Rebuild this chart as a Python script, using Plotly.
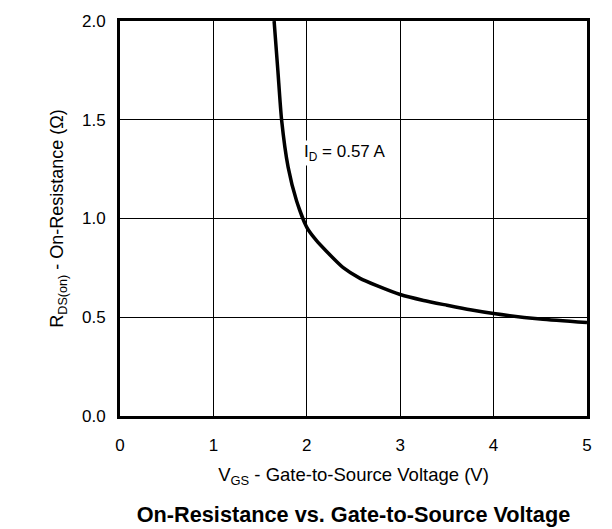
import plotly.graph_objects as go

# R_DS(on) vs V_GS at I_D = 0.57 A
vgs = [1.65, 1.69, 1.73, 1.80, 1.89, 2.00, 2.10, 2.21, 2.39, 2.57, 2.75, 3.00, 3.25, 3.50, 3.75, 4.00, 4.50, 5.00]
rds_on = [2.00, 1.75, 1.50, 1.26, 1.09, 0.955, 0.89, 0.834, 0.751, 0.697, 0.66, 0.615, 0.585, 0.561, 0.538, 0.519, 0.491, 0.473]
x_ticks = [0, 1, 2, 3, 4, 5]
y_ticks = [0.0, 0.5, 1.0, 1.5, 2.0]
curve_label = "I<sub>D</sub> = 0.57 A"

FONT = "Liberation Sans, Arial, Helvetica, sans-serif"

fig = go.Figure()
fig.add_trace(go.Scatter(x=vgs, y=rds_on, mode="lines", line=dict(color="black", width=3.5, shape="spline", smoothing=0.6),
                         showlegend=False, hoverinfo="skip"))
fig.add_annotation(x=1.945, y=1.33, text=curve_label, showarrow=False, xanchor="left", yanchor="middle",
                   font=dict(family=FONT, size=17, color="black"), bgcolor="white")

axis_common = dict(showgrid=True, gridcolor="black", gridwidth=1, showline=True, linecolor="black", linewidth=2.8,
                   mirror=True, zeroline=False, ticks="", tickfont=dict(family=FONT, size=17, color="black"))
fig.update_xaxes(range=[0, 5], tickvals=x_ticks, ticktext=[str(v) for v in x_ticks], ticklabelstandoff=12,
                 title=dict(text="V<sub>GS</sub> - Gate-to-Source Voltage (V)", font=dict(family=FONT, size=18.5, color="black"), standoff=14),
                 **axis_common)
fig.update_yaxes(range=[0, 2], tickvals=y_ticks, ticktext=[f"{v:.1f}" for v in y_ticks], ticklabelstandoff=8,
                 title=dict(text="R<sub>DS(on)</sub> - On-Resistance (\u03a9)", font=dict(family=FONT, size=18, color="black"), standoff=14),
                 **axis_common)
fig.update_layout(width=612, height=529, margin=dict(l=120, r=25, t=14, b=113), plot_bgcolor="white", paper_bgcolor="white",
                  title=dict(text="<b>On-Resistance vs. Gate-to-Source Voltage</b>", x=0.5776, xanchor="center", y=0.027, yanchor="middle",
                             font=dict(family=FONT, size=21.7, color="black")))
# page body has a default margin that pushes the figure off the window
fig.write_html("out.html", config={"displayModeBar": False},
               post_script="document.body.style.margin='0';document.body.style.overflow='hidden';")
